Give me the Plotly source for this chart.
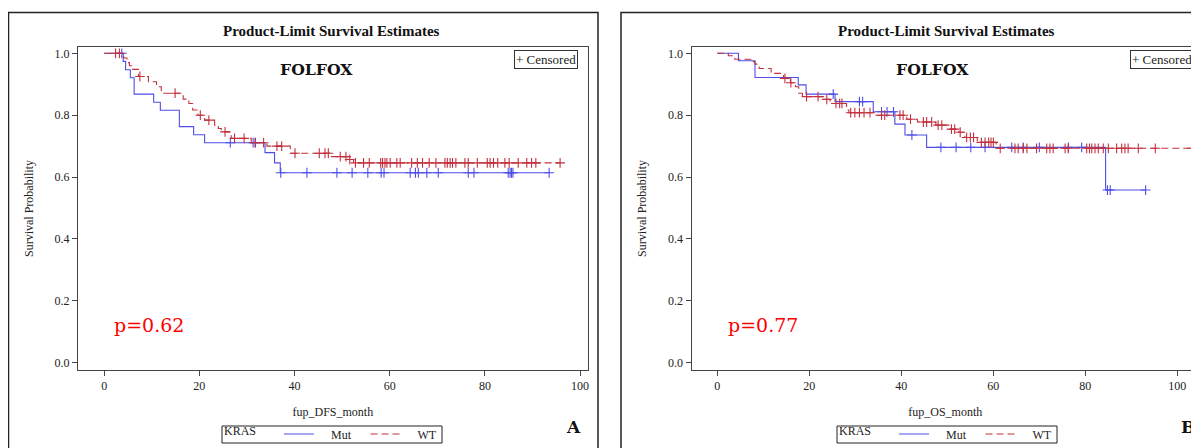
import numpy as np
import plotly.graph_objects as go

W, H = 1199, 448
OFF = 8  # the page body margin shifts the figure by 8 px
FW, FH = W - OFF, H - OFF

# ---------------- data ----------------
# Panel A: DFS
dfs_mut_t = [0, 4.0, 4.5, 5.5, 6.3, 10.4, 11.8, 15.8, 18.8, 21.1, 33.8, 35.8, 37.0]
dfs_mut_s = [1.0, 0.974, 0.947, 0.921, 0.868, 0.842, 0.816, 0.763, 0.737, 0.711, 0.679, 0.646, 0.614]
dfs_mut_cens = [3.7, 26.5, 31.3, 31.8, 37.1, 42.6, 48.9, 52.1, 55.4, 58.2, 58.8, 64.3, 65.4, 66.0,
                67.8, 70.2, 76.5, 77.7, 84.9, 85.3, 85.6, 85.9, 93.5]

dfs_wt_t = [0, 4.1, 4.8, 5.3, 5.8, 7.2, 9.3, 11.0, 12.0, 16.6, 17.8, 18.6, 19.7, 21.1, 23.2, 24.0,
            24.6, 26.7, 30.9, 34.2, 39.1, 47.5, 51.3, 52.4]
dfs_wt_s = [1.0, 0.985, 0.97, 0.96, 0.948, 0.925, 0.908, 0.892, 0.871, 0.852, 0.838, 0.817, 0.80,
            0.784, 0.768, 0.757, 0.746, 0.725, 0.711, 0.70, 0.677, 0.666, 0.657, 0.646]
dfs_wt_cens = [2.4, 3.2, 7.5, 14.9, 20.2, 22.0, 25.4, 27.4, 29.4, 31.7, 33.5, 36.3, 37.3, 40.1, 45.2,
               46.4, 47.1, 49.6, 50.8, 51.6, 52.8, 54.5, 55.7, 58.1, 58.5, 59.0, 59.4, 60.1, 61.5,
               62.2, 64.6, 65.8, 66.9, 68.3, 69.7, 71.6, 72.1, 72.7, 73.2, 73.9, 75.8, 76.5, 78.4,
               80.5, 81.1, 81.8, 82.7, 84.2, 85.1, 87.0, 88.8, 89.8, 90.7, 95.8]

# Panel B: OS
os_mut_t = [0, 4.6, 8.2, 17.6, 19.3, 25.6, 33.9, 38.6, 40.8, 45.5, 84.4]
os_mut_s = [1.0, 0.976, 0.922, 0.898, 0.868, 0.844, 0.811, 0.771, 0.736, 0.696, 0.558]
os_mut_cens = [25.2, 30.9, 31.6, 35.7, 36.9, 38.3, 42.3, 48.6, 51.9, 55.1, 58.2, 64.0, 66.5, 70.0,
               76.3, 79.2, 84.8, 85.4, 93.1]

os_wt_t = [0, 2.4, 3.8, 7.5, 8.2, 9.1, 11.7, 12.5, 14.4, 15.9, 17.0, 17.7, 18.5, 23.5, 24.5, 28.1,
           28.6, 34.0, 41.2, 43.5, 47.5, 50.5, 52.5, 53.8, 56.5, 60.6]
os_wt_s = [1.0, 0.992, 0.981, 0.973, 0.965, 0.951, 0.94, 0.935, 0.919, 0.905, 0.892, 0.871, 0.86,
           0.851, 0.838, 0.817, 0.808, 0.80, 0.787, 0.778, 0.768, 0.755, 0.745, 0.728, 0.712, 0.693]
os_wt_cens = [14.7, 16.0, 19.4, 21.9, 23.8, 25.8, 26.6, 27.1, 29.0, 29.9, 30.9, 31.9, 33.2, 35.7,
              36.4, 39.7, 40.4, 42.0, 44.8, 45.5, 46.6, 48.0, 48.8, 50.9, 51.6, 52.8, 54.2, 55.0,
              55.7, 57.4, 58.2, 59.0, 59.5, 60.0, 61.5, 64.7, 65.4, 66.5, 67.3, 69.4, 71.6, 72.3,
              73.0, 75.6, 76.3, 80.3, 80.9, 81.4, 82.1, 82.8, 83.9, 85.0, 86.8, 87.9, 88.6, 89.3,
              91.5, 95.2, 103.1]

group_labels = ["Mut", "WT"]
legend_title = "KRAS"
p_values = ["p=0.62", "p=0.77"]
x_titles = ["fup_DFS_month", "fup_OS_month"]
panel_letters = ["A", "B"]
y_ticks = [0.0, 0.2, 0.4, 0.6, 0.8, 1.0]
x_ticks = [0, 20, 40, 60, 80, 100]

# ---------------- style ----------------
BLUE = "rgb(78,78,232)"
RED = "rgb(196,48,62)"
SERIF = "Liberation Serif, Times New Roman, serif"
SLAB = "DejaVu Serif, serif"
AXC = "#444"
NB = "\u00a0"


def px(x):
    return (x - OFF) / FW


def py(y):
    return (H - y) / FH


def step_xy(t, s, cens):
    end = max(max(cens), t[-1])
    return list(t) + [end], list(s) + [s[-1]]


def cens_y(t, s, cens):
    idx = np.searchsorted(np.array(t), np.array(cens), side="right") - 1
    return list(np.array(s)[idx])


fig = go.Figure()

panels = [
    dict(xa="x", ya="y", leg="legend",
         groups=[(dfs_mut_t, dfs_mut_s, dfs_mut_cens), (dfs_wt_t, dfs_wt_s, dfs_wt_cens)]),
    dict(xa="x2", ya="y2", leg="legend2",
         groups=[(os_mut_t, os_mut_s, os_mut_cens), (os_wt_t, os_wt_s, os_wt_cens)]),
]

for p in panels:
    for gi, (t, s, c) in enumerate(p["groups"]):
        col = BLUE if gi == 0 else RED
        dash = "solid" if gi == 0 else "7px,4px"
        xs, ys = step_xy(t, s, c)
        fig.add_trace(go.Scatter(
            x=xs, y=ys, mode="lines", line=dict(shape="hv", color=col, width=1.1, dash=dash),
            name=NB * 4 + group_labels[gi], xaxis=p["xa"], yaxis=p["ya"], legend=p["leg"],
            showlegend=True, hoverinfo="skip"))
        fig.add_trace(go.Scatter(
            x=c, y=cens_y(t, s, c), mode="markers",
            marker=dict(symbol="cross-thin-open", size=7, color=col, line=dict(width=1.1, color=col)),
            xaxis=p["xa"], yaxis=p["ya"], showlegend=False, hoverinfo="skip"))

ydom = [py(370), py(47)]
yrange = [-0.0236, 1.0204]

axis_common = dict(showline=True, linecolor=AXC, linewidth=1, ticks="outside", ticklen=5,
                   tickcolor=AXC, showgrid=False, zeroline=False, automargin=False,
                   tickfont=dict(family=SERIF, size=12, color="#222"),
                   title_font=dict(family=SERIF, size=12, color="#222"))

leg_common = dict(orientation="h", y=py(434), xanchor="left", yanchor="middle",
                  xref="paper", yref="paper",
                  borderwidth=0, bgcolor="rgba(0,0,0,0)",
                  font=dict(family=SERIF, size=12, color="#222"),
                  title=dict(text=legend_title + NB * 5, side="left",
                             font=dict(family=SERIF, size=12, color="#222")),
                  entrywidth=41.5, entrywidthmode="pixels", tracegroupgap=0)

fig.update_layout(
    width=FW, height=FH, autosize=False,
    margin=dict(l=0, r=0, t=0, b=0, autoexpand=False),
    paper_bgcolor="white", plot_bgcolor="white",
    xaxis=dict(domain=[px(78), px(587.7)], range=[-5.5, 101.6], tickvals=x_ticks, mirror=True,
               anchor="y", title=dict(text=x_titles[0], standoff=15), **axis_common),
    yaxis=dict(domain=ydom, range=yrange, tickvals=y_ticks, tickformat=".1f", mirror=True,
               anchor="x", title=dict(text="Survival Probability", standoff=18), **axis_common),
    xaxis2=dict(domain=[px(691.5), 1.0], range=[-5.6, 104.7], tickvals=x_ticks, mirror=True,
                anchor="y2", title=dict(text=x_titles[1], standoff=15), **axis_common),
    yaxis2=dict(domain=ydom, range=yrange, tickvals=y_ticks, tickformat=".1f", mirror=False,
                anchor="x2", title=dict(text="Survival Probability", standoff=18), **axis_common),
    legend=dict(x=px(222), **leg_common),
    legend2=dict(x=px(837), **leg_common),
)

# Outer panel frames
fig.add_shape(type="rect", xref="paper", yref="paper", x0=px(8.5), x1=px(598), y0=-0.03, y1=py(12.5),
              line=dict(color="#222", width=1.5), layer="below")
fig.add_shape(type="rect", xref="paper", yref="paper", x0=px(621), x1=1.02, y0=-0.03, y1=py(12.5),
              line=dict(color="#222", width=1.5), layer="below")
# Legend frames
for lx in [222, 837]:
    fig.add_shape(type="rect", xref="paper", yref="paper", x0=px(lx), x1=px(lx + 220),
                  y0=py(443), y1=py(426), line=dict(color="#222", width=1), layer="below")

ann = dict(xref="paper", yref="paper", showarrow=False, xanchor="center", yanchor="middle")
for i, (cx, cxc, cxp, cxl) in enumerate([(331, 316, 149, 573), (946, 932, 763, 1188)]):
    fig.add_annotation(x=px(cx), y=py(31), text="<b>Product-Limit Survival Estimates</b>",
                       font=dict(family=SERIF, size=15, color="#111"), **ann)
    fig.add_annotation(x=px(cxc), y=py(69), text="<b>FOLFOX</b>",
                       font=dict(family=SLAB, size=15.7, color="#111"), **ann)
    fig.add_annotation(x=px(cxp), y=py(325), text=p_values[i],
                       font=dict(family=SLAB, size=19, color="red"), **ann)
    fig.add_annotation(x=px(cxl), y=py(427), text="<b>" + panel_letters[i] + "</b>",
                       font=dict(family=SLAB, size=17, color="#111"), **ann)

for cx in [546, 1162]:
    fig.add_annotation(x=px(cx), y=py(60), text="+ Censored", bordercolor="#333", borderwidth=1,
                       borderpad=1, bgcolor="white", font=dict(family=SERIF, size=13, color="#222"), **ann)

fig.write_html("out.html")
